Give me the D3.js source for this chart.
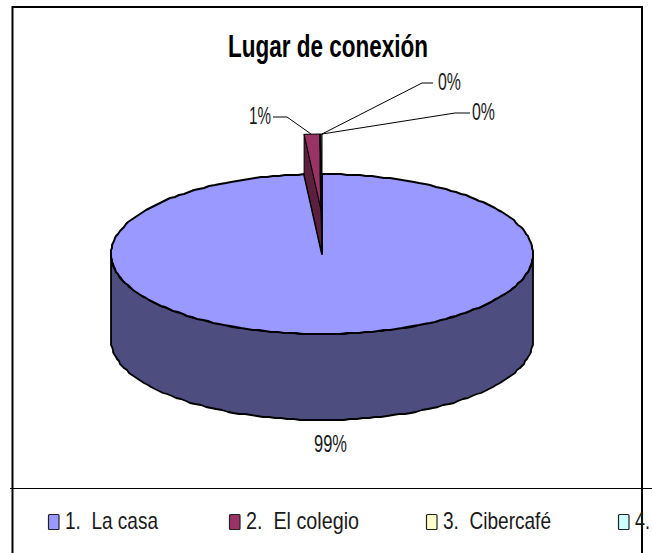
<!DOCTYPE html>
<html>
<head>
<meta charset="utf-8">
<script src="https://cdn.jsdelivr.net/npm/d3@7"></script>
<style>
body { margin: 0; background: #fff; }
text { font-family: "Liberation Sans", sans-serif; fill: #1a1a1a; white-space: pre; }
</style>
</head>
<body>
<div id="chart-area"></div>
<script>
var width = 652;
var height = 553;

// values
var categories = ["1.  La casa", "2.  El colegio", "3.  Cibercafé", "4."];
var values = [98.65, 1.2, 0.08, 0.07];
var topColors = ["#9999ff", "#993366", "#ffffcc", "#ccffff"];
var sideColors = ["#4d4d80", "#5c1f3d", "#000000", "#000000"];

var cx = 322, cy = 254, rx = 211, ry = 80;
var depth = 86;
var lift = 40; // the small slice stands higher than the big one

var svg = d3.select("#chart-area")
    .append("svg")
    .attr("width", width)
    .attr("height", height)
    .style("display", "block");

// outer frame
var frame = svg.append("g").attr("stroke", "#000").attr("fill", "none");
frame.append("path").attr("d", "M12.5,553V7H642V553").attr("stroke-width", 2);
frame.append("line").attr("x1", 10).attr("x2", 652).attr("y1", 488.5).attr("y2", 488.5).attr("stroke-width", 1);

svg.append("text")
    .attr("x", 228).attr("y", 57)
    .attr("font-size", 32)
    .attr("font-weight", "bold")
    .attr("textLength", 200)
    .attr("lengthAdjust", "spacingAndGlyphs")
    .style("fill", "#000")
    .text("Lugar de conexión");

var pie = d3.pie().sort(null).value(function(d) { return d; });
var arcs = pie(values);

// angle -> point on the flat ellipse, snapped to the pixel grid like the original
function rim(a, dy) {
    return [Math.round(cx + rx * Math.sin(a)), Math.round(cy + dy - ry * Math.cos(a))];
}
function rimPts(a0, a1, dy) {
    var n = Math.max(2, Math.ceil(Math.abs(a1 - a0) / 0.03));
    return d3.range(n + 1).map(function(i) { return rim(a0 + (a1 - a0) * i / n, dy); });
}
var line = d3.line();
var pieG = svg.append("g").attr("stroke", "#000").attr("stroke-linejoin", "round");

// front wall of the big slice
var wall = rimPts(Math.PI / 2, 3 * Math.PI / 2, 0)
    .concat(rimPts(3 * Math.PI / 2, Math.PI / 2, depth));
pieG.append("path")
    .attr("d", line(wall) + "Z")
    .attr("fill", sideColors[0])
    .attr("stroke-width", 1.8);

// top of the big slice
pieG.append("path")
    .attr("d", line([[cx, cy]].concat(rimPts(arcs[0].startAngle, arcs[0].endAngle, 0))) + "Z")
    .attr("fill", topColors[0])
    .attr("stroke-width", 2);

// raised slices: left wall, then top
arcs.slice(1).forEach(function(d, i) {
    var c = i + 1;
    var x0 = cx + rx * Math.sin(d.startAngle);
    var y0 = cy - ry * Math.cos(d.startAngle);
    var x1 = cx + rx * Math.sin(d.endAngle);
    var y1 = cy - ry * Math.cos(d.endAngle);
    pieG.append("path")
        .attr("d", line([[cx, cy], [x0, y0], [x0, y0 - lift], [cx, cy - lift]]) + "Z")
        .attr("fill", sideColors[c])
        .attr("stroke-width", 1);
    pieG.append("path")
        .attr("d", line([[cx, cy - lift], [x0, y0 - lift], [x1, y1 - lift]]) + "Z")
        .attr("fill", topColors[c])
        .attr("stroke-width", 1);
});

// percent labels with leader lines
var total = d3.sum(values);
var labelPos = [[314, 452, 33], [249, 124, 22], [438, 90, 23], [472, 120, 23]];
var leaders = [
    null,
    [[273, 117], [287, 117], [311, 134]],
    [[433, 83], [422, 83], [322, 134]],
    [[470, 113], [455, 113], [322, 134]]
];
arcs.forEach(function(d, i) {
    svg.append("text")
        .attr("x", labelPos[i][0]).attr("y", labelPos[i][1])
        .attr("font-size", 23)
        .attr("textLength", labelPos[i][2])
        .attr("lengthAdjust", "spacingAndGlyphs")
        .text(d3.format(".0f")(d.data / total * 100) + "%");
    if (leaders[i]) {
        svg.append("path")
            .attr("d", line(leaders[i]))
            .attr("fill", "none")
            .attr("stroke", "#000")
            .attr("stroke-width", 1);
    }
});

// legend
var legendX = d3.scaleOrdinal().domain(categories).range([48, 229, 426, 618]);
var legendWidths = [93, 113, 108, 15];
var legend = svg.selectAll(".legend").data(categories).enter().append("g")
    .attr("class", "legend")
    .attr("transform", function(d) { return "translate(" + legendX(d) + ",0)"; });
legend.append("rect")
    .attr("x", 0.5).attr("y", 514.5)
    .attr("width", 10.5).attr("height", 15)
    .attr("rx", 1)
    .attr("fill", function(d, i) { return topColors[i]; })
    .attr("stroke", "#222")
    .attr("stroke-width", 1.2);
legend.append("text")
    .attr("x", 17).attr("y", 529)
    .attr("font-size", 24)
    .attr("textLength", function(d, i) { return legendWidths[i]; })
    .attr("lengthAdjust", "spacingAndGlyphs")
    .text(function(d) { return d; });
</script>
</body>
</html>
